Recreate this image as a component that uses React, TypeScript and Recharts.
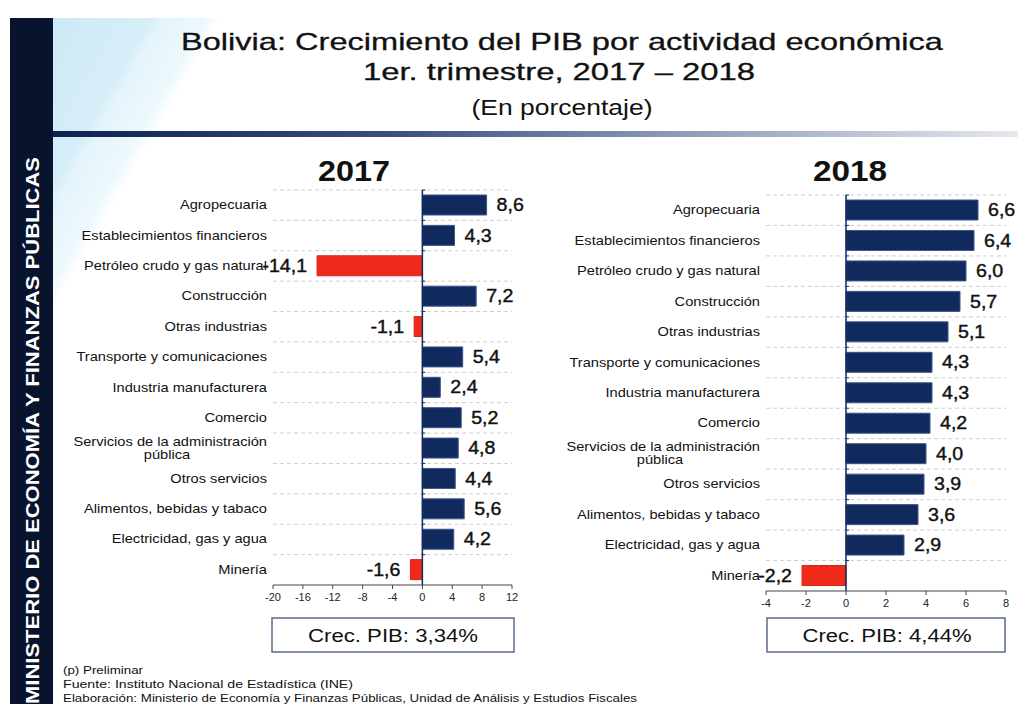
import React from 'react';
import { BarChart, Bar, XAxis, YAxis, CartesianGrid, ReferenceLine, LabelList, Cell } from 'recharts';

const FONT = '"Liberation Sans", Arial, Helvetica, sans-serif';

// actividades económicas (mismo orden en ambos paneles)
const categories = [
  'Agropecuaria',
  'Establecimientos financieros',
  'Petróleo crudo y gas natural',
  'Construcción',
  'Otras industrias',
  'Transporte y comunicaciones',
  'Industria manufacturera',
  'Comercio',
  'Servicios de la administración pública',
  'Otros servicios',
  'Alimentos, bebidas y tabaco',
  'Electricidad, gas y agua',
  'Minería',
];
const values2017 = [8.6, 4.3, -14.1, 7.2, -1.1, 5.4, 2.4, 5.2, 4.8, 4.4, 5.6, 4.2, -1.6];
const values2018 = [6.6, 6.4, 6.0, 5.7, 5.1, 4.3, 4.3, 4.2, 4.0, 3.9, 3.6, 2.9, -2.2];
const ticks2017 = [-20, -16, -12, -8, -4, 0, 4, 8, 12];
const ticks2018 = [-4, -2, 0, 2, 4, 6, 8];
const years = ['2017', '2018'];
const gdpLabels = ['Crec. PIB: 3,34%', 'Crec. PIB: 4,44%'];
const titleLines = [
  'Bolivia: Crecimiento del PIB por actividad económica',
  '1er. trimestre, 2017 – 2018',
  '(En porcentaje)',
];
const notes = [
  '(p) Preliminar',
  'Fuente: Instituto Nacional de Estadística (INE)',
  'Elaboración: Ministerio de Economía y Finanzas Públicas, Unidad de Análisis y Estudios Fiscales',
];
const sideText = 'MINISTERIO DE ECONOMÍA Y FINANZAS PÚBLICAS';

const NAVY = '#112a5e';
const RED = '#f02a1a';
const STRETCH = 1.22; // la fuente original es más ancha que Arial

const fmt = (v: number) => v.toFixed(1).replace('.', ',');

// etiqueta de categoría (eje Y)
const CategoryTick = (props: any) => {
  const { x, y, payload } = props;
  const label: string = payload.value;
  const common = { fontFamily: FONT, fontSize: 12, fill: '#111' };
  if (label === 'Servicios de la administración pública') {
    return (
      <g transform={`translate(${x},${y}) scale(${STRETCH},1)`}>
        <text x={0} y={-6.5} textAnchor="end" dominantBaseline="central" {...common}>
          Servicios de la administración
        </text>
        <text x={-82} y={6.5} textAnchor="middle" dominantBaseline="central" {...common}>
          pública
        </text>
      </g>
    );
  }
  return (
    <g transform={`translate(${x},${y}) scale(${STRETCH},1)`}>
      <text x={0} y={0} textAnchor="end" dominantBaseline="central" {...common}>
        {label}
      </text>
    </g>
  );
};

const NumberTick = (props: any) => {
  const { x, y, payload } = props;
  return (
    <text x={x} y={y} dy="0.71em" textAnchor="middle" fontFamily={FONT} fontSize={11} fill="#222">
      {payload.value}
    </text>
  );
};

// valor al final de cada barra
const ValueLabel = (props: any) => {
  const { x, y, width, height, value } = props;
  const a = Number(x);
  const b = Number(x) + Number(width);
  const cy = Number(y) + Number(height) / 2;
  const neg = Number(value) < 0;
  const tx = neg ? Math.min(a, b) - 10 : Math.max(a, b) + 10;
  return (
    <g transform={`translate(${tx},${cy}) scale(1.12,1)`}>
      <text
        x={0}
        y={0}
        textAnchor={neg ? 'end' : 'start'}
        dominantBaseline="central"
        fontFamily={FONT}
        fontSize={17.5}
        fill="#111"
        stroke="#111"
        strokeWidth={0.4}
      >
        {fmt(Number(value))}
      </text>
    </g>
  );
};

// línea del cero con marcas pequeñas en cada separación
const makeZeroLine = (rows: number) => (props: any) => {
  const { x1, y1, x2, y2 } = props;
  const top = Math.min(y1, y2);
  const bottom = Math.max(y1, y2);
  const step = (bottom - top) / rows;
  return (
    <g>
      <line x1={x1} y1={top} x2={x2} y2={bottom} stroke={NAVY} strokeWidth={1.5} />
      {Array.from({ length: rows }, (_, i) => (
        <line key={i} x1={x1} x2={x1 + 3} y1={top + i * step} y2={top + i * step} stroke={NAVY} strokeWidth={1} />
      ))}
    </g>
  );
};

interface PanelProps {
  values: number[];
  ticks: number[];
  left: number;
  top: number;
  width: number;
  height: number;
  yWidth: number;
  margin: { top: number; right: number; bottom: number; left: number };
}

const Panel = ({ values, ticks, left, top, width, height, yWidth, margin }: PanelProps) => {
  const data = categories.map((name, i) => ({ name, value: values[i] }));
  const rows = data.length;
  return (
    <div style={{ position: 'absolute', left, top }}>
      <BarChart layout="vertical" width={width} height={height} data={data} margin={margin}>
        <CartesianGrid
          vertical={false}
          stroke="#cfcfcf"
          strokeDasharray="4 3"
          horizontalCoordinatesGenerator={({ offset }: any) =>
            Array.from({ length: rows }, (_, i) => offset.top + (i * offset.height) / rows)
          }
        />
        <XAxis
          type="number"
          domain={[ticks[0], ticks[ticks.length - 1]]}
          ticks={ticks}
          interval={0}
          height={30}
          stroke="#444"
          tickSize={4}
          tickMargin={4}
          tick={<NumberTick />}
        />
        <YAxis
          type="category"
          dataKey="name"
          width={yWidth}
          interval={0}
          axisLine={false}
          tickLine={false}
          tickSize={6}
          tickMargin={0}
          tick={<CategoryTick />}
        />
        <Bar dataKey="value" barSize={20} isAnimationActive={false}>
          {data.map((d, i) => (
            <Cell key={i} fill={d.value < 0 ? RED : NAVY} stroke={d.value < 0 ? '#d4261a' : '#3f5589'} strokeWidth={1} />
          ))}
          <LabelList dataKey="value" content={<ValueLabel />} />
        </Bar>
        <ReferenceLine x={0} ifOverflow="extendDomain" shape={makeZeroLine(rows)} />
      </BarChart>
    </div>
  );
};

const App = () => {
  return (
    <div
      style={{
        position: 'absolute',
        left: 0,
        top: 0,
        width: 1018,
        height: 704,
        background: '#ffffff',
        overflow: 'hidden',
        fontFamily: FONT,
      }}
    >
      {/* fondo celeste diagonal */}
      <div
        style={{
          position: 'absolute',
          left: 53,
          top: 18,
          width: 965,
          height: 686,
          background:
            'linear-gradient(120deg, #cde8f5 0px, #d6eef8 85px, #e4f4fb 95px, #edf8fd 132px, #ffffff 146px)',
        }}
      />
      {/* línea azul bajo el título */}
      <div
        style={{
          position: 'absolute',
          left: 53,
          top: 131,
          width: 965,
          height: 6,
          background: 'linear-gradient(90deg, #0e2250 0%, #3a4f7e 35%, #8e9bb6 65%, #e4e8ef 100%)',
        }}
      />
      {/* barra lateral */}
      <div style={{ position: 'absolute', left: 10, top: 18, width: 43, height: 686, background: '#08142e' }} />

      <svg width={1018} height={704} style={{ position: 'absolute', left: 0, top: 0 }}>
        <text
          transform="translate(39,704) rotate(-90)"
          fontFamily={FONT}
          fontSize={19}
          fontWeight="bold"
          fill="#ffffff"
          textLength={547}
          lengthAdjust="spacingAndGlyphs"
        >
          {sideText}
        </text>

        <text x={562} y={50} textAnchor="middle" fontFamily={FONT} fontSize={24} fill="#111" stroke="#111" strokeWidth={0.3} textLength={762} lengthAdjust="spacingAndGlyphs">
          {titleLines[0]}
        </text>
        <text x={559} y={80} textAnchor="middle" fontFamily={FONT} fontSize={24} fill="#111" stroke="#111" strokeWidth={0.3} textLength={392} lengthAdjust="spacingAndGlyphs">
          {titleLines[1]}
        </text>
        <text x={562} y={115} textAnchor="middle" fontFamily={FONT} fontSize={22} fill="#111" textLength={181} lengthAdjust="spacingAndGlyphs">
          {titleLines[2]}
        </text>

        <text x={354} y={181} textAnchor="middle" fontFamily={FONT} fontSize={29} fontWeight="bold" fill="#111" textLength={72} lengthAdjust="spacingAndGlyphs">
          {years[0]}
        </text>
        <text x={850} y={181} textAnchor="middle" fontFamily={FONT} fontSize={29} fontWeight="bold" fill="#111" textLength={74} lengthAdjust="spacingAndGlyphs">
          {years[1]}
        </text>

        <rect x={272} y={618} width={242} height={34} fill="#fff" stroke="#5b6b8f" strokeWidth={1.5} />
        <text x={393} y={642} textAnchor="middle" fontFamily={FONT} fontSize={18} fill="#111" textLength={170} lengthAdjust="spacingAndGlyphs">
          {gdpLabels[0]}
        </text>
        <rect x={767} y={618} width={238} height={34} fill="#fff" stroke="#5b6b8f" strokeWidth={1.5} />
        <text x={887} y={642} textAnchor="middle" fontFamily={FONT} fontSize={18} fill="#111" textLength={169} lengthAdjust="spacingAndGlyphs">
          {gdpLabels[1]}
        </text>

        <text x={63} y={674} fontFamily={FONT} fontSize={11} fill="#111" textLength={80} lengthAdjust="spacingAndGlyphs">
          {notes[0]}
        </text>
        <text x={63} y={688} fontFamily={FONT} fontSize={11} fill="#111" textLength={290} lengthAdjust="spacingAndGlyphs">
          {notes[1]}
        </text>
        <text x={63} y={702} fontFamily={FONT} fontSize={11} fill="#111" textLength={574} lengthAdjust="spacingAndGlyphs">
          {notes[2]}
        </text>
      </svg>

      <Panel
        values={values2017}
        ticks={ticks2017}
        left={60}
        top={180}
        width={492}
        height={435}
        yWidth={213}
        margin={{ top: 10, right: 40, bottom: 0, left: 0 }}
      />
      <Panel
        values={values2018}
        ticks={ticks2018}
        left={540}
        top={185}
        width={478}
        height={436}
        yWidth={226}
        margin={{ top: 10, right: 12, bottom: 0, left: 0 }}
      />
    </div>
  );
};

export default App;
